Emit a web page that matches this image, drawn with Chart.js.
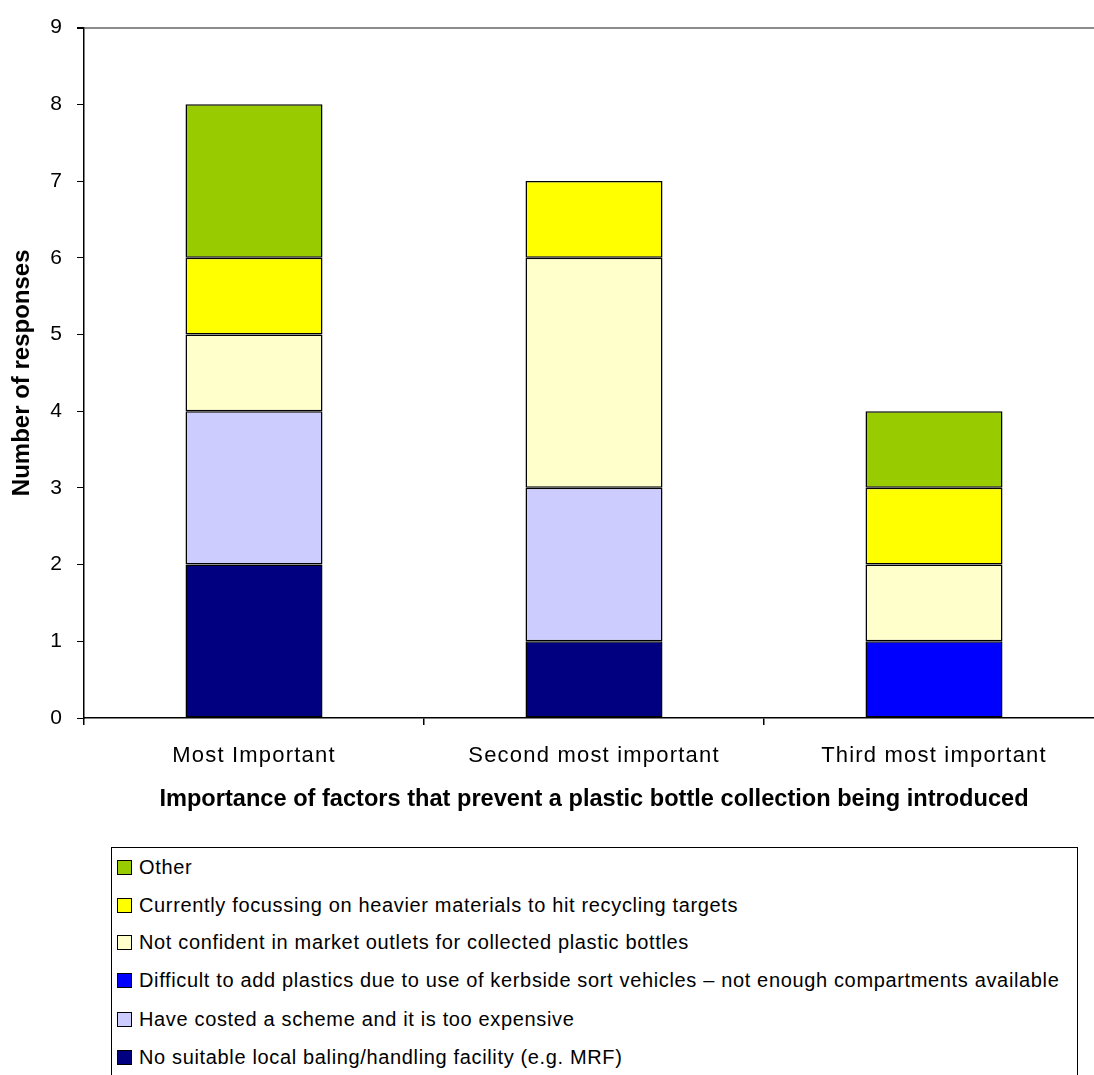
<!DOCTYPE html>
<html>
<head>
<meta charset="utf-8">
<title>Factors preventing plastic bottle collection</title>
<script src="https://cdn.jsdelivr.net/npm/chart.js@4.4.1/dist/chart.umd.min.js"></script>
<style>
  body { margin: 0; width: 1094px; height: 1075px; overflow: hidden; background: #fff; position: relative; }
  #chart { position: absolute; left: 0; top: 0; }
  #legend {
    position: absolute; left: 111px; top: 847px; width: 967px; height: 260px;
    border: 1px solid #000; box-sizing: border-box;
    font-family: "Liberation Sans", Arial, sans-serif; font-size: 20px; color: #000;
    letter-spacing: 0.65px;
  }
  #legend .row { position: absolute; left: 5px; height: 20px; line-height: 20px; white-space: nowrap; }
  #legend .sw { position: absolute; left: 0; top: 3px; width: 13px; height: 13px; border: 1px solid #000; }
  #legend .txt { position: absolute; left: 22px; top: 0; }
</style>
</head>
<body>
<canvas id="chart" width="1110" height="830"></canvas>
<div id="legend"></div>
<script>
// categories along the x axis
const categories = ['Most Important', 'Second most important', 'Third most important'];

// stacked series, bottom to top
const noFacility    = [2, 1, 0];
const tooExpensive  = [2, 2, 0];
const kerbsideSort  = [0, 0, 1];
const notConfident  = [1, 3, 1];
const heavierFocus  = [1, 1, 1];
const other         = [2, 0, 1];

const seriesNames = [
  'No suitable local baling/handling facility (e.g. MRF)',
  'Have costed a scheme and it is too expensive',
  'Difficult to add plastics due to use of kerbside sort vehicles \u2013 not enough compartments available',
  'Not confident in market outlets for collected plastic bottles',
  'Currently focussing on heavier materials to hit recycling targets',
  'Other'
];
const seriesColors = ['#000080', '#CCCCFF', '#0000FF', '#FFFFCC', '#FFFF00', '#99CC00'];
const seriesValues = [noFacility, tooExpensive, kerbsideSort, notConfident, heavierFocus, other];

const yTicks = [0, 1, 2, 3, 4, 5, 6, 7, 8, 9];

const FONT = '"Liberation Sans", Arial, sans-serif';

const datasets = seriesValues.map((vals, i) => ({
  label: seriesNames[i],
  data: vals,
  backgroundColor: seriesColors[i],
  borderColor: '#000',
  borderWidth: 1.5,
  borderSkipped: false,
  categoryPercentage: 1,
  barPercentage: 0.403
}));

// category labels are drawn a little spaced out
const spacedXLabels = {
  id: 'spacedXLabels',
  beforeDraw(chart) {
    const s = chart.scales.x;
    if (s._spaced) return;
    const orig = s.drawLabels.bind(s);
    s.drawLabels = function (area) {
      const ctx = this.ctx;
      const prev = ctx.letterSpacing;
      ctx.letterSpacing = '1.2px';
      orig(area);
      ctx.letterSpacing = prev || '0px';
    };
    s._spaced = true;
  }
};

const chart = new Chart(document.getElementById('chart'), {
  type: 'bar',
  data: { labels: categories, datasets },
  plugins: [spacedXLabels],
  options: {
    responsive: false,
    animation: false,
    layout: { padding: { top: 26, right: 6, left: 0, bottom: 0 } },
    plugins: { legend: { display: false }, tooltip: { enabled: false } },
    scales: {
      x: {
        stacked: true,
        offset: true,
        grid: { offset: true, color: 'transparent', tickColor: '#000', tickLength: 7, lineWidth: 1.5 },
        border: { color: '#000', width: 1.5 },
        ticks: { color: '#000', padding: 18, font: { family: FONT, size: 22 } },
        title: {
          display: true,
          text: 'Importance of factors that prevent a plastic bottle collection being introduced',
          color: '#000',
          font: { family: FONT, size: 23.6, weight: 'bold' },
          padding: { top: 0, bottom: 16 }
        },
        afterFit: s => { s.height = 112; }
      },
      y: {
        stacked: true,
        min: 0,
        max: 9,
        afterBuildTicks: s => { s.ticks = yTicks.map(v => ({ value: v })); },
        grid: {
          color: c => c.tick && c.tick.value === 9 ? '#8c8c8c' : 'transparent',
          lineWidth: c => c.tick && c.tick.value === 9 ? 2 : 1,
          tickColor: '#000',
          tickLength: 7
        },
        border: { color: '#000', width: 1.5 },
        ticks: { color: '#000', padding: 15, font: { family: FONT, size: 21 } },
        title: {
          display: true,
          text: 'Number of responses',
          color: '#000',
          font: { family: FONT, size: 24, weight: 'bold' },
          padding: { top: 8, bottom: 0 }
        },
        afterFit: s => { s.width = 84; }
      }
    }
  }
});

// legend box: top entry is the last series, one row per series
const legend = document.getElementById('legend');
const rowTops = [9, 47, 84, 122, 161, 199];
chart.data.datasets.slice().reverse().forEach((ds, i) => {
  const row = document.createElement('div');
  row.className = 'row';
  row.style.top = rowTops[i] + 'px';
  row.innerHTML = '<span class="sw" style="background:' + ds.backgroundColor + '"></span>' +
    '<span class="txt">' + ds.label + '</span>';
  legend.appendChild(row);
});
</script>
</body>
</html>
